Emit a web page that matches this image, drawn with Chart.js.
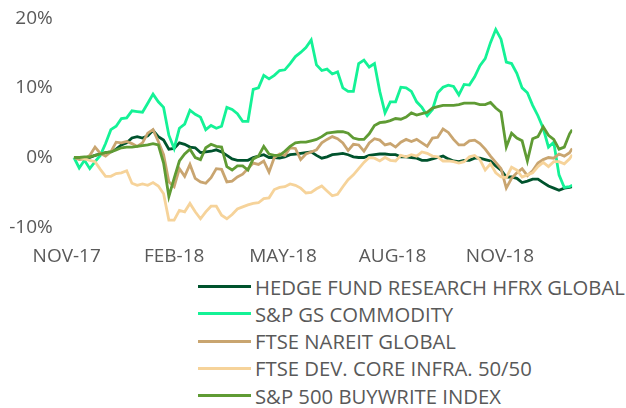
<!DOCTYPE html>
<html>
<head>
<meta charset="utf-8">
<script src="https://cdn.jsdelivr.net/npm/chart.js@4/dist/chart.umd.min.js"></script>
<style>
  body { margin: 0; background: #fff; font-family: "Open Sans", sans-serif; }
  #wrap { position: relative; width: 626px; height: 408px; }
  #box { position: absolute; left: 0; top: 0; width: 626px; height: 265px; }
  #legenda { position: absolute; left: 198px; top: 273px; }
  .item { display: flex; align-items: center; height: 27.25px; color: #595959; font-size: 20.3px; white-space: nowrap; }
  .item span.linha { display: inline-block; width: 53px; height: 3px; margin-right: 4px; }
</style>
</head>
<body>
<div id="wrap">
  <div id="box"><canvas id="myChart"></canvas></div>
  <div id="legenda"></div>
</div>
<script>
// dias desde a primeira observacao (passo de 4 dias)
const dias = [0,4,8,12,16,20,24,28,32,36,40,44,48,52,56,60,64,68,72,76,80,84,88,92,96,100,104,108,112,116,120,124,128,132,136,140,144,148,152,156,160,164,168,172,176,180,184,188,192,196,200,204,208,212,216,220,224,228,232,236,240,244,248,252,256,260,264,268,272,276,280,284,288,292,296,300,304,308,312,316,320,324,328,332,336,340,344,348,352,356,360,364,368,372,376,378]

const tickPos = [-5.5, 76, 158.6, 241.7, 323.2]
const tickLabels = ['NOV-17', 'FEB-18', 'MAY-18', 'AUG-18', 'NOV-18']

const nomes = ['HEDGE FUND RESEARCH HFRX GLOBAL', 'S&P GS COMMODITY', 'FTSE NAREIT GLOBAL', 'FTSE DEV. CORE INFRA. 50/50', 'S&P 500 BUYWRITE INDEX']
const cores = ['#00532D', '#14F296', '#C9A570', '#F6D39A', '#5F9B34']

const hfrx = [0,-0.1,-0.2,0,0.3,0.5,0.7,0.8,1.2,1.8,
  2.1,2.8,3,2.8,3.1,3.9,3,2.5,1.2,1.3,
  2.1,1.9,1.5,1.4,0.7,0.8,0.9,1.1,0.8,0.3,
  -0.2,-0.4,-0.4,-0.4,0,0.2,0.4,0,0,-0.1,
  0.1,0.4,0.5,0.6,0.7,0.8,0.3,-0.1,0.1,0.4,
  0.5,0.6,0.4,0.1,0,0,0.3,0.4,0.5,0.5,
  0.4,0.4,0.1,0.1,0,-0.1,-0.4,-0.4,-0.2,0,
  0.2,-0.2,-0.5,-0.6,-0.4,-0.4,-0.1,-0.1,-0.3,-0.5,
  -1.2,-1.8,-2.8,-2.8,-3,-3.6,-3.4,-3.1,-3.1,-3.6,
  -4.1,-4.4,-4.7,-4.4,-4.3,-4.2]

const commodity = [0,-1.5,-0.4,-1.6,-0.6,0.3,2,4,4.5,5.6,
  5.7,6.7,6.6,6.5,7.8,9.1,8,7.2,3.2,1.3,
  4.2,4.8,6.8,6.2,5.8,4,4.6,4.2,4.5,7.2,
  6.9,6.3,5.2,5.2,9.8,10,11.8,11.3,11.8,12.5,
  12.6,13.5,14.5,15.1,15.8,16.9,13.3,12.5,12.7,12,
  12.3,10,9.5,9.5,13.5,14,13,13.5,9.5,6.4,
  8,8,10.1,10,9.5,8,7.2,6,6.9,9.3,
  10.1,10.4,10.2,9,10.5,10.4,11.6,13.2,14.2,16.5,
  18.4,17,13.7,13.5,12.1,10,9.3,7.5,6,4.2,
  1.5,2.2,-2.5,-4.3,-4.2,-4]

const nareit = [0,-0.3,-0.2,0.3,1.5,0.6,0.2,0.8,2.2,2.1,
  2.3,2,1.6,2.1,3.5,4,2.3,0.4,-3.5,-4.2,
  -1.6,-2.7,-1,-3,-3.5,-3.7,-2.9,-1.6,-1.7,-3.5,
  -3.4,-2.8,-2.4,-1.6,-0.8,-1,-0.5,-2.1,0,0.5,
  0.3,1.4,1.3,-0.3,0.5,0.8,1.1,2.1,2.6,3,
  2.7,2.1,1,1.9,1.8,0.9,2.1,2.7,2.5,1.8,
  2,1.5,2.2,2.6,2.3,2.6,2.1,1.6,2.8,2.9,
  4.1,3.6,2.6,1.8,1.8,2.4,2.5,2,1.2,0.2,
  -0.7,-1.6,-4.4,-3,-2.2,-1.6,-2.6,-1.9,-0.8,-0.3,
  0,-0.1,0.5,0.2,0.7,1.3]

const infra = [0,0,-0.2,-0.4,-0.6,-1.7,-2.7,-2.7,-2.3,-2.2,
  -1.9,-3.7,-4,-3.8,-4,-3.6,-4.1,-5.2,-9,-9,
  -7.6,-7.8,-6.6,-7.8,-8.8,-7.8,-7,-7,-8.3,-8.8,
  -8.2,-7.4,-7.1,-6.8,-6.6,-6.5,-5.9,-5.8,-4.6,-4.3,
  -4.2,-3.8,-4,-4.4,-5.1,-5,-4.5,-4.1,-4.8,-5.5,
  -5.3,-4.2,-3.2,-2.5,-1.6,-0.7,0,-0.1,-0.5,0,
  -0.4,-0.5,0.3,0.1,0.4,0.2,0.8,0.6,0.2,0.1,
  -0.5,-0.5,-0.6,-0.8,-0.6,0.1,0.3,-0.3,-1.8,-0.9,
  -2.2,-2.8,-2.9,-1.4,-1.8,-2.8,-2.5,-2.2,-1.3,-0.7,
  -1.3,-0.6,-0.6,-0.9,-0.2,0.4]

const buywrite = [0,0,0.1,0.1,0.3,0.5,0.7,0.8,1.1,1.4,
  1.5,1.5,1.6,1.7,1.8,2,1.8,-0.8,-5.6,-3,
  -0.5,0.5,1.2,0,-0.3,1.4,1.9,1.6,1.5,-1.3,
  -1.8,-1.2,-1.2,-1.8,-0.2,0.2,1.6,0.5,0.3,0.3,
  0.9,1.6,2.1,2.2,2.2,2.4,2.6,3,3.5,3.6,
  3.7,3.7,3.5,2.8,2.6,2.6,3.4,4.6,5,5.1,
  5.3,5.6,5.5,5.8,6.4,6.1,6.3,6.5,7.1,7.3,
  7.5,7.5,7.5,7.6,7.8,7.8,7.8,7.6,7.6,7.9,
  7.1,6.5,1.5,3.5,2.8,2.4,-0.5,2.7,3,4.4,
  3.2,2.6,1.2,1.5,3.4,4]

const series = [hfrx, commodity, nareit, infra, buywrite]

const ctx = document.getElementById('myChart')

const grafico = new Chart(ctx, {
  type: 'line',
  data: {
    labels: dias,
    datasets: series.map((s, i) => ({
      label: nomes[i],
      data: s.map((v, j) => ({ x: dias[j], y: v })),
      borderColor: cores[i],
      backgroundColor: cores[i],
      borderWidth: 2.8,
      pointRadius: 0,
      tension: 0,
      order: series.length - i
    }))
  },
  options: {
    responsive: true,
    maintainAspectRatio: false,
    animation: false,
    layout: { padding: { top: 18.3, right: 53.8, left: 0, bottom: 0 } },
    plugins: {
      legend: { display: false },
      tooltip: { enabled: false }
    },
    scales: {
      x: {
        type: 'linear',
        min: -5.5,
        max: 378,
        grid: { display: false, drawTicks: false },
        border: { display: false },
        afterBuildTicks: axis => { axis.ticks = tickPos.map(v => ({ value: v })) },
        afterFit: axis => { axis.height = 37.9 },
        ticks: {
          autoSkip: false,
          maxRotation: 0,
          padding: 18,
          color: '#595959',
          font: { family: 'Open Sans', size: 19 },
          callback: (v, i) => tickLabels[i]
        }
      },
      y: {
        min: -10,
        max: 20,
        grid: { display: false, drawTicks: false },
        border: { display: false },
        afterFit: axis => {
          axis.width = 66.7
          axis.paddingTop = 0
          axis.paddingBottom = 0
        },
        ticks: {
          stepSize: 10,
          padding: 14,
          color: '#595959',
          font: { family: 'Open Sans', size: 19 },
          callback: v => v + '%'
        }
      }
    }
  }
})

// legenda em HTML
const legenda = document.getElementById('legenda')
grafico.data.datasets.forEach(d => {
  const linha = document.createElement('div')
  linha.className = 'item'
  linha.innerHTML = '<span class="linha" style="background:' + d.borderColor + '"></span>'
  linha.appendChild(document.createTextNode(d.label))
  legenda.appendChild(linha)
})
</script>
</body>
</html>
